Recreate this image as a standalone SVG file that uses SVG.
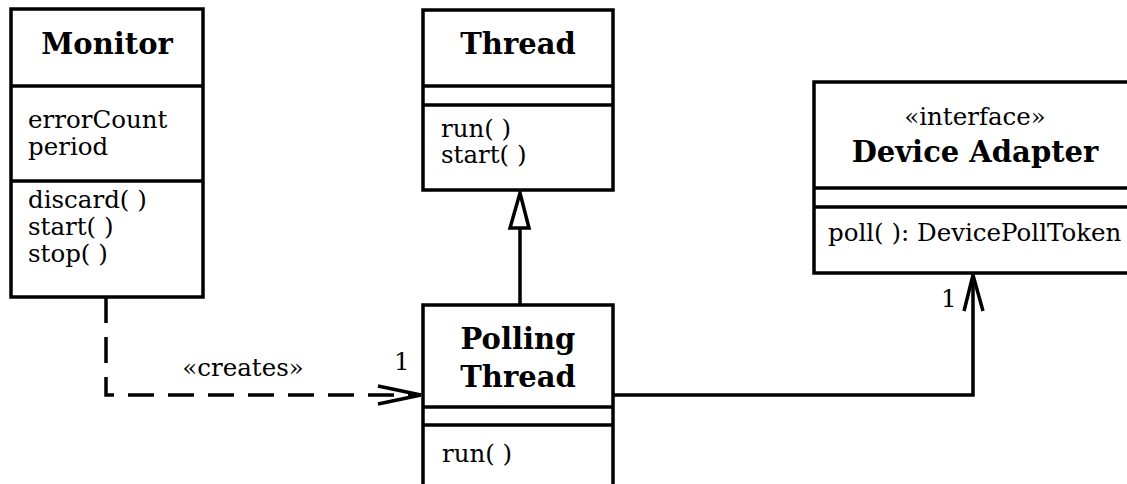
<svg xmlns="http://www.w3.org/2000/svg" width="1127" height="484" viewBox="0 0 1127 484">
  <style>
    .box { fill: #fff; stroke: #000; stroke-width: 3.5; }
    .sep { stroke: #000; stroke-width: 3.5; }
    .title { font-family: "DejaVu Serif", "Liberation Serif", serif; font-weight: bold; font-size: 29px; text-anchor: middle; fill: #000; }
    .txt { font-family: "DejaVu Serif", "Liberation Serif", serif; font-size: 24.5px; fill: #000; }
    .mid { text-anchor: middle; }
    .line { fill: none; stroke: #000; stroke-width: 3.5; }
    .dash { stroke-dasharray: 26 14; }
  </style>

  <g id="connectors">
    <!-- Monitor creates PollingThread (dependency) -->
    <path class="line dash" d="M106,297 V395 H421"/>
    <path class="line" d="M378,386 L421,395 L378,404"/>
    <text class="txt mid" x="243" y="376">«creates»</text>
    <text class="txt" x="394" y="370">1</text>
    <!-- PollingThread generalizes Thread -->
    <path class="line" d="M520,305 V228"/>
    <path class="line" d="M520,193 L529,228 L510,228 Z" fill="#fff"/>
    <!-- PollingThread uses DeviceAdapter -->
    <path class="line" d="M613,395 H973 V275"/>
    <path class="line" d="M964,311 L973,275 L983,311"/>
    <text class="txt" x="941" y="307">1</text>
  </g>

  <g id="monitor">
    <rect class="box" x="11" y="9" width="192" height="288"/>
    <line class="sep" x1="11" y1="86" x2="203" y2="86"/>
    <line class="sep" x1="11" y1="181" x2="203" y2="181"/>
    <text class="title" x="107" y="54">Monitor</text>
    <text class="txt" x="28" y="128">errorCount</text>
    <text class="txt" x="28" y="155">period</text>
    <text class="txt" x="28" y="208">discard( )</text>
    <text class="txt" x="28" y="235">start( )</text>
    <text class="txt" x="28" y="262">stop( )</text>
  </g>

  <g id="thread">
    <rect class="box" x="423" y="10" width="190" height="180"/>
    <line class="sep" x1="423" y1="86" x2="613" y2="86"/>
    <line class="sep" x1="423" y1="105" x2="613" y2="105"/>
    <text class="title" x="518" y="54">Thread</text>
    <text class="txt" x="441" y="137">run( )</text>
    <text class="txt" x="441" y="163">start( )</text>
  </g>

  <g id="device-adapter">
    <rect class="box" x="814" y="82" width="330" height="191"/>
    <line class="sep" x1="814" y1="188" x2="1127" y2="188"/>
    <line class="sep" x1="814" y1="207" x2="1127" y2="207"/>
    <text class="txt mid" x="975" y="125">«interface»</text>
    <text class="title" x="975" y="162">Device Adapter</text>
    <text class="txt" x="828" y="241">poll( ): DevicePollToken</text>
  </g>

  <g id="polling-thread">
    <rect class="box" x="423" y="305" width="190" height="200"/>
    <line class="sep" x1="423" y1="407" x2="613" y2="407"/>
    <line class="sep" x1="423" y1="425" x2="613" y2="425"/>
    <text class="title" x="518" y="349">Polling</text>
    <text class="title" x="518" y="387">Thread</text>
    <text class="txt" x="442" y="462">run( )</text>
  </g>
</svg>
